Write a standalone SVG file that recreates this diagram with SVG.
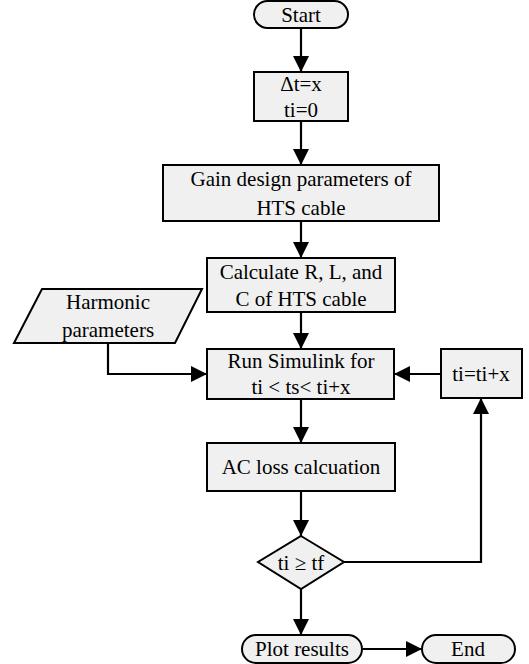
<svg xmlns="http://www.w3.org/2000/svg" width="529" height="664" viewBox="0 0 529 664">
<defs>
<marker id="arr" markerUnits="userSpaceOnUse" markerWidth="16" markerHeight="16" refX="16" refY="8" orient="auto">
<path d="M0,0 L16,8 L0,16 z" fill="#000"/>
</marker>
<style>
.n{fill:#f0f0f0;stroke:#000;stroke-width:2}
.c{fill:none;stroke:#000;stroke-width:2.2;marker-end:url(#arr)}
</style>
</defs>
<rect width="529" height="664" fill="#fff"/>
<g id="connectors">
<path class="c" d="M301,28 V72"/>
<path class="c" d="M301,121 V165"/>
<path class="c" d="M301,221 V258"/>
<path class="c" d="M301,312 V349"/>
<path class="c" d="M108,343 V374 H207"/>
<path class="c" d="M441,374 H394"/>
<path class="c" d="M301,399 V443"/>
<path class="c" d="M301,491 V536"/>
<path class="c" d="M344,562 H481 V398"/>
<path class="c" d="M301,589 V635"/>
<path class="c" d="M362,649 H422"/>
</g>
<g font-family="Liberation Serif, DejaVu Serif, serif" font-size="21" fill="#000" text-anchor="middle">
<g id="start"><rect class="n" x="254" y="1" width="94" height="27" rx="13.5"/><text x="301" y="22">Start</text></g>
<g id="init"><rect class="n" x="254" y="72" width="94" height="49"/><text x="301" y="91">Δt=x</text><text x="301" y="117">ti=0</text></g>
<g id="gain"><rect class="n" x="163" y="165" width="276" height="56"/><text x="301" y="186">Gain design parameters of</text><text x="301" y="215">HTS cable</text></g>
<g id="calc"><rect class="n" x="207" y="258" width="188" height="54"/><text x="301" y="279">Calculate R, L, and</text><text x="301" y="306">C of HTS cable</text></g>
<g id="harmonic"><polygon class="n" points="42,289 202,289 175,343 14,343"/><text x="108" y="309">Harmonic</text><text x="108" y="337">parameters</text></g>
<g id="run"><rect class="n" x="207" y="349" width="187" height="50"/><text x="301" y="368">Run Simulink for</text><text x="301" y="394">ti &lt; ts&lt; ti+x</text></g>
<g id="incr"><rect class="n" x="441" y="349" width="81" height="49"/><text x="481" y="381">ti=ti+x</text></g>
<g id="acloss"><rect class="n" x="207" y="443" width="188" height="48"/><text x="301" y="474">AC loss calcuation</text></g>
<g id="decision"><polygon class="n" points="301,536 344,562 301,589 258,562"/><text x="301" y="570">ti ≥ tf</text></g>
<g id="plot"><rect class="n" x="242" y="635" width="120" height="28" rx="14"/><text x="302" y="656">Plot results</text></g>
<g id="end"><rect class="n" x="422" y="635" width="93" height="28" rx="14"/><text x="468" y="656">End</text></g>
</g>
</svg>
